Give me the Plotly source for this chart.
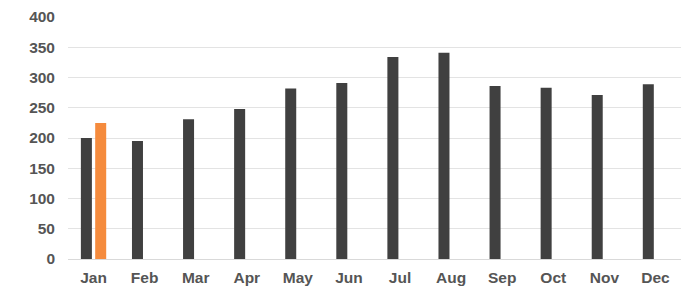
import plotly.graph_objects as go

months = ["Jan", "Feb", "Mar", "Apr", "May", "Jun", "Jul", "Aug", "Sep", "Oct", "Nov", "Dec"]
series_a = [200, 195, 231, 248, 282, 291, 334, 341, 286, 283, 271, 289]
series_b = [225, None, None, None, None, None, None, None, None, None, None, None]
y_ticks = [0, 50, 100, 150, 200, 250, 300, 350, 400]

fig = go.Figure()
fig.add_trace(go.Bar(x=months, y=series_a, marker=dict(color="#404040", line=dict(width=0)), name="A"))
fig.add_trace(go.Bar(x=months, y=series_b, marker=dict(color="#F58B3D", line=dict(width=0)), name="B"))

fig.update_layout(
    width=700, height=296,
    margin=dict(l=68, r=19, t=17, b=37),
    barmode="group", bargap=0.44, bargroupgap=0.23,
    showlegend=False,
    plot_bgcolor="white", paper_bgcolor="white",
    font=dict(family="Liberation Sans, Arial, sans-serif", size=15.5, color="#595959"),
)
fig.update_xaxes(
    automargin=False,
    showgrid=False, showline=True, linecolor="#d9d9d9", linewidth=1,
    ticks="", ticklabelstandoff=4,
    tickfont=dict(size=15.5, color="#555555", weight="bold"),
)
fig.update_yaxes(
    automargin=False,
    range=[0, 400], tickvals=y_ticks, showgrid=True, gridcolor="#e3e3e3", gridwidth=1,
    zeroline=False, showline=False, ticks="", ticklabelstandoff=12,
    tickfont=dict(size=15.5, color="#555555", weight="bold"),
)
fig.write_html("out.html")
